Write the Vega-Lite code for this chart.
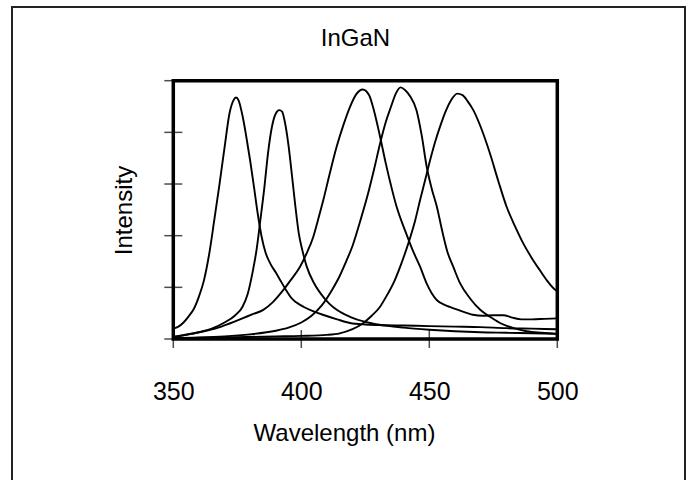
{
  "$schema": "https://vega.github.io/schema/vega-lite/v6.json",
  "width": 673,
  "height": 480,
  "autosize": {"type": "none"},
  "padding": {"left": 12, "top": 7, "right": 4, "bottom": 0},
  "background": "white",
  "config": {
    "view": {"stroke": "#222", "strokeWidth": 2},
    "font": "Liberation Sans"
  },
  "title": {
    "text": "InGaN",
    "fontSize": 24,
    "fontWeight": "normal",
    "font": "Liberation Sans",
    "color": "black",
    "anchor": "middle",
    "frame": "group",
    "baseline": "alphabetic",
    "offset": -63,
    "dx": 7
  },
  "datasets": {
    "one": [{"k": 1}],
    "yt": [{"t": 0}, {"t": 1}, {"t": 2}, {"t": 3}, {"t": 4}, {"t": 5}],
    "xt": [{"w": 350}, {"w": 400}, {"w": 450}, {"w": 500}],
    "curves": [
      {"s": "a", "wl": 350, "I": 0.20}, {"s": "a", "wl": 352, "I": 0.24}, {"s": "a", "wl": 354, "I": 0.32}, {"s": "a", "wl": 356, "I": 0.44},
      {"s": "a", "wl": 358, "I": 0.58}, {"s": "a", "wl": 360, "I": 0.82}, {"s": "a", "wl": 362, "I": 1.14}, {"s": "a", "wl": 364, "I": 1.64},
      {"s": "a", "wl": 366, "I": 2.30}, {"s": "a", "wl": 368, "I": 2.98}, {"s": "a", "wl": 370, "I": 3.70}, {"s": "a", "wl": 372, "I": 4.38},
      {"s": "a", "wl": 373.5, "I": 4.62}, {"s": "a", "wl": 374.5, "I": 4.675}, {"s": "a", "wl": 375.5, "I": 4.62}, {"s": "a", "wl": 377, "I": 4.33},
      {"s": "a", "wl": 378.5, "I": 3.92}, {"s": "a", "wl": 380, "I": 3.46}, {"s": "a", "wl": 381.5, "I": 2.95}, {"s": "a", "wl": 383, "I": 2.42},
      {"s": "a", "wl": 384.5, "I": 1.98}, {"s": "a", "wl": 386, "I": 1.68}, {"s": "a", "wl": 388, "I": 1.45}, {"s": "a", "wl": 390, "I": 1.29},
      {"s": "a", "wl": 392, "I": 1.12}, {"s": "a", "wl": 394, "I": 0.95}, {"s": "a", "wl": 396, "I": 0.80}, {"s": "a", "wl": 398, "I": 0.71},
      {"s": "a", "wl": 401, "I": 0.62}, {"s": "a", "wl": 405, "I": 0.53}, {"s": "a", "wl": 409, "I": 0.46}, {"s": "a", "wl": 414, "I": 0.38},
      {"s": "a", "wl": 419, "I": 0.31}, {"s": "a", "wl": 425, "I": 0.28}, {"s": "a", "wl": 430, "I": 0.27}, {"s": "a", "wl": 440, "I": 0.26},
      {"s": "a", "wl": 450, "I": 0.25}, {"s": "a", "wl": 460, "I": 0.24}, {"s": "a", "wl": 470, "I": 0.23}, {"s": "a", "wl": 480, "I": 0.21},
      {"s": "a", "wl": 490, "I": 0.20}, {"s": "a", "wl": 500, "I": 0.19},

      {"s": "b", "wl": 350, "I": 0.04}, {"s": "b", "wl": 355, "I": 0.08}, {"s": "b", "wl": 360, "I": 0.13}, {"s": "b", "wl": 365, "I": 0.20},
      {"s": "b", "wl": 370, "I": 0.32}, {"s": "b", "wl": 374, "I": 0.45}, {"s": "b", "wl": 377, "I": 0.62}, {"s": "b", "wl": 379, "I": 0.86},
      {"s": "b", "wl": 381, "I": 1.30}, {"s": "b", "wl": 382.5, "I": 1.72}, {"s": "b", "wl": 384, "I": 2.30}, {"s": "b", "wl": 385.5, "I": 2.90},
      {"s": "b", "wl": 387, "I": 3.60}, {"s": "b", "wl": 388.5, "I": 4.10}, {"s": "b", "wl": 390, "I": 4.36}, {"s": "b", "wl": 391.4, "I": 4.43},
      {"s": "b", "wl": 392.5, "I": 4.40}, {"s": "b", "wl": 393.5, "I": 4.22}, {"s": "b", "wl": 395, "I": 3.75}, {"s": "b", "wl": 396.5, "I": 3.10},
      {"s": "b", "wl": 397.5, "I": 2.65}, {"s": "b", "wl": 399, "I": 2.05}, {"s": "b", "wl": 400.5, "I": 1.70}, {"s": "b", "wl": 402, "I": 1.42},
      {"s": "b", "wl": 405, "I": 1.08}, {"s": "b", "wl": 408.5, "I": 0.82}, {"s": "b", "wl": 411, "I": 0.68}, {"s": "b", "wl": 414, "I": 0.56},
      {"s": "b", "wl": 419, "I": 0.43}, {"s": "b", "wl": 425, "I": 0.33}, {"s": "b", "wl": 430, "I": 0.28}, {"s": "b", "wl": 440, "I": 0.22},
      {"s": "b", "wl": 450, "I": 0.18}, {"s": "b", "wl": 460, "I": 0.15}, {"s": "b", "wl": 470, "I": 0.13}, {"s": "b", "wl": 480, "I": 0.12},
      {"s": "b", "wl": 490, "I": 0.11}, {"s": "b", "wl": 500, "I": 0.10},

      {"s": "c", "wl": 350, "I": 0.04}, {"s": "c", "wl": 360, "I": 0.13}, {"s": "c", "wl": 367, "I": 0.21}, {"s": "c", "wl": 372, "I": 0.30},
      {"s": "c", "wl": 377, "I": 0.40}, {"s": "c", "wl": 381, "I": 0.48}, {"s": "c", "wl": 385, "I": 0.56}, {"s": "c", "wl": 389, "I": 0.72},
      {"s": "c", "wl": 393, "I": 0.95}, {"s": "c", "wl": 396, "I": 1.15}, {"s": "c", "wl": 399.5, "I": 1.40}, {"s": "c", "wl": 402, "I": 1.65},
      {"s": "c", "wl": 404.7, "I": 1.98}, {"s": "c", "wl": 406.5, "I": 2.30}, {"s": "c", "wl": 408.6, "I": 2.69}, {"s": "c", "wl": 411, "I": 3.18},
      {"s": "c", "wl": 413.8, "I": 3.72}, {"s": "c", "wl": 416.5, "I": 4.15}, {"s": "c", "wl": 419, "I": 4.49}, {"s": "c", "wl": 421.5, "I": 4.74},
      {"s": "c", "wl": 424, "I": 4.83}, {"s": "c", "wl": 426.5, "I": 4.72}, {"s": "c", "wl": 428.5, "I": 4.40}, {"s": "c", "wl": 430.8, "I": 3.91},
      {"s": "c", "wl": 433, "I": 3.40}, {"s": "c", "wl": 435, "I": 2.98}, {"s": "c", "wl": 437, "I": 2.60}, {"s": "c", "wl": 439, "I": 2.30},
      {"s": "c", "wl": 441, "I": 2.04}, {"s": "c", "wl": 443.5, "I": 1.72}, {"s": "c", "wl": 446.4, "I": 1.40}, {"s": "c", "wl": 449, "I": 1.07},
      {"s": "c", "wl": 451, "I": 0.88}, {"s": "c", "wl": 453, "I": 0.75}, {"s": "c", "wl": 456, "I": 0.66}, {"s": "c", "wl": 458, "I": 0.62},
      {"s": "c", "wl": 462, "I": 0.55}, {"s": "c", "wl": 467, "I": 0.47}, {"s": "c", "wl": 471, "I": 0.45}, {"s": "c", "wl": 475, "I": 0.46},
      {"s": "c", "wl": 479, "I": 0.46}, {"s": "c", "wl": 482, "I": 0.42}, {"s": "c", "wl": 486, "I": 0.38}, {"s": "c", "wl": 490, "I": 0.38},
      {"s": "c", "wl": 495, "I": 0.39}, {"s": "c", "wl": 500, "I": 0.40},

      {"s": "d", "wl": 350, "I": 0.02}, {"s": "d", "wl": 360, "I": 0.03}, {"s": "d", "wl": 370, "I": 0.05}, {"s": "d", "wl": 380, "I": 0.09},
      {"s": "d", "wl": 390, "I": 0.16}, {"s": "d", "wl": 395, "I": 0.22}, {"s": "d", "wl": 400, "I": 0.32}, {"s": "d", "wl": 404, "I": 0.45},
      {"s": "d", "wl": 408, "I": 0.65}, {"s": "d", "wl": 412, "I": 0.95}, {"s": "d", "wl": 415, "I": 1.22}, {"s": "d", "wl": 417.5, "I": 1.50},
      {"s": "d", "wl": 420, "I": 1.80}, {"s": "d", "wl": 423, "I": 2.28}, {"s": "d", "wl": 426, "I": 2.80}, {"s": "d", "wl": 428.5, "I": 3.30},
      {"s": "d", "wl": 430.8, "I": 3.79}, {"s": "d", "wl": 433, "I": 4.20}, {"s": "d", "wl": 435, "I": 4.49}, {"s": "d", "wl": 437, "I": 4.76},
      {"s": "d", "wl": 438.8, "I": 4.87}, {"s": "d", "wl": 440.5, "I": 4.82}, {"s": "d", "wl": 442.5, "I": 4.70}, {"s": "d", "wl": 445, "I": 4.43},
      {"s": "d", "wl": 447, "I": 3.95}, {"s": "d", "wl": 449, "I": 3.33}, {"s": "d", "wl": 451, "I": 2.90}, {"s": "d", "wl": 453, "I": 2.55},
      {"s": "d", "wl": 455, "I": 2.10}, {"s": "d", "wl": 457, "I": 1.70}, {"s": "d", "wl": 459.5, "I": 1.38}, {"s": "d", "wl": 462, "I": 1.08},
      {"s": "d", "wl": 466, "I": 0.78}, {"s": "d", "wl": 470, "I": 0.56}, {"s": "d", "wl": 474, "I": 0.42}, {"s": "d", "wl": 478, "I": 0.30},
      {"s": "d", "wl": 483, "I": 0.21}, {"s": "d", "wl": 488, "I": 0.15}, {"s": "d", "wl": 494, "I": 0.12}, {"s": "d", "wl": 500, "I": 0.10},

      {"s": "e", "wl": 350, "I": 0.02}, {"s": "e", "wl": 370, "I": 0.03}, {"s": "e", "wl": 390, "I": 0.05}, {"s": "e", "wl": 400, "I": 0.06},
      {"s": "e", "wl": 410, "I": 0.08}, {"s": "e", "wl": 415, "I": 0.11}, {"s": "e", "wl": 420, "I": 0.19}, {"s": "e", "wl": 424, "I": 0.30},
      {"s": "e", "wl": 427.5, "I": 0.45}, {"s": "e", "wl": 430.7, "I": 0.62}, {"s": "e", "wl": 433.5, "I": 0.85}, {"s": "e", "wl": 436, "I": 1.08},
      {"s": "e", "wl": 439, "I": 1.45}, {"s": "e", "wl": 442, "I": 1.88}, {"s": "e", "wl": 444.5, "I": 2.30}, {"s": "e", "wl": 446.4, "I": 2.69},
      {"s": "e", "wl": 448.5, "I": 3.10}, {"s": "e", "wl": 450.3, "I": 3.46}, {"s": "e", "wl": 452.3, "I": 3.82}, {"s": "e", "wl": 454.2, "I": 4.11},
      {"s": "e", "wl": 456.5, "I": 4.42}, {"s": "e", "wl": 458.5, "I": 4.62}, {"s": "e", "wl": 460.9, "I": 4.75}, {"s": "e", "wl": 463, "I": 4.72},
      {"s": "e", "wl": 465, "I": 4.60}, {"s": "e", "wl": 467.2, "I": 4.43}, {"s": "e", "wl": 470.5, "I": 4.05}, {"s": "e", "wl": 473.7, "I": 3.59},
      {"s": "e", "wl": 477, "I": 3.05}, {"s": "e", "wl": 480.2, "I": 2.56}, {"s": "e", "wl": 483.5, "I": 2.18}, {"s": "e", "wl": 486.7, "I": 1.85},
      {"s": "e", "wl": 490, "I": 1.57}, {"s": "e", "wl": 493.2, "I": 1.33}, {"s": "e", "wl": 496, "I": 1.13}, {"s": "e", "wl": 499, "I": 0.96},
      {"s": "e", "wl": 500, "I": 0.93}
    ]
  },
  "layer": [
    {
      "data": {"name": "curves"},
      "mark": {"type": "line", "color": "black", "strokeWidth": 1.9, "interpolate": "monotone"},
      "encoding": {
        "x": {
          "field": "wl", "type": "quantitative",
          "scale": {"domain": [350, 500], "range": [161.3, 545.3], "nice": false, "zero": false},
          "axis": {
            "title": "Wavelength (nm)", "titleFontSize": 24, "titleFontWeight": "normal", "titleColor": "black", "titleFont": "Liberation Sans",
            "titleX": 332, "titleY": 101, "titleBaseline": "alphabetic", "titleAlign": "center",
            "labelFontSize": 25, "labelColor": "black", "labelFont": "Liberation Sans", "labelPadding": 40, "labelDx": -5,
            "labelFlush": false, "labelOverlap": false, "values": [350, 400, 450, 500],
            "ticks": false, "domain": false, "grid": false, "offset": -148
          }
        },
        "y": {
          "field": "I", "type": "quantitative",
          "scale": {"domain": [0, 5], "range": [332, 73.7], "nice": false, "zero": false},
          "axis": {
            "title": "Intensity", "titleFontSize": 24, "titleFontWeight": "normal", "titleColor": "black", "titleFont": "Liberation Sans",
            "titleX": -49, "titleY": 203, "titleBaseline": "middle", "titleAlign": "center", "titleAngle": -90,
            "labels": false, "ticks": false, "domain": false, "grid": false, "offset": -161.3
          }
        },
        "detail": {"field": "s", "type": "nominal"}
      }
    },
    {
      "data": {"name": "one"},
      "mark": {"type": "rect", "filled": false, "color": "black", "strokeWidth": 3.5},
      "encoding": {
        "x": {"datum": 350, "type": "quantitative"},
        "x2": {"datum": 500},
        "y": {"datum": 0, "type": "quantitative"},
        "y2": {"datum": 5}
      }
    },
    {
      "data": {"name": "yt"},
      "mark": {"type": "tick", "orient": "horizontal", "size": 18, "thickness": 1.5, "color": "black"},
      "encoding": {
        "x": {"datum": 350, "type": "quantitative"},
        "y": {"field": "t", "type": "quantitative"}
      }
    },
    {
      "data": {"name": "xt"},
      "mark": {"type": "tick", "orient": "vertical", "size": 18, "thickness": 1.5, "color": "black"},
      "encoding": {
        "x": {"field": "w", "type": "quantitative"},
        "y": {"datum": 0, "type": "quantitative"}
      }
    }
  ]
}
